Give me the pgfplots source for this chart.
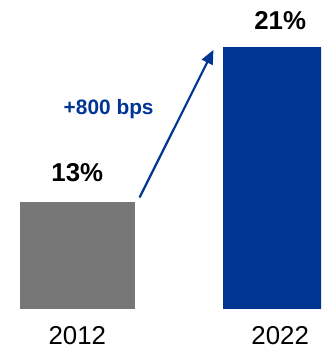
\documentclass[border=0pt]{standalone}
\usepackage{pgfplots}
\pgfplotsset{compat=1.18}
\usepackage{fontspec}
\setmainfont{Liberation Sans}
\usetikzlibrary{arrows.meta}
\definecolor{bgray}{HTML}{777777}
\definecolor{bblue}{HTML}{003594}
\begin{document}
\begin{tikzpicture}
\begin{axis}[
  name=ax,
  scale only axis, width=322bp, height=310bp,
  xmin=-0.3808, xmax=1.2015, ymin=7.5, ymax=23.397,
  axis line style={draw=none}, tick style={draw=none},
  ytick=\empty, xtick={0,1}, xticklabels={2012,2022},
  ybar, bar width=115bp, bar shift=0pt,
  point meta=explicit symbolic,
  nodes near coords,
  nodes near coords style={font=\fontsize{26}{30}\selectfont\bfseries, anchor=south, inner sep=0pt, text=black},
  xticklabel style={font=\fontsize{26}{30}\selectfont, anchor=base, inner sep=0pt, yshift=-31bp},
  /pgf/number format/assume math mode=true,
  clip=true
]
\addplot[fill=bgray, draw=none, every node near coord/.append style={yshift=20bp}] coordinates {(0,13) [13\%]};
\addplot[fill=bblue, draw=none, every node near coord/.append style={yshift=17bp}] coordinates {(1,21) [21\%]};
\draw[bblue, line width=2.2bp, -{Triangle[length=14bp,width=12bp]}] (axis cs:0.307,13.24) -- (axis cs:0.671,20.83);
\node[text=bblue, font=\fontsize{21}{25}\selectfont\bfseries, anchor=base, inner sep=0pt] at (axis cs:0.1548,17.5) {+800 bps};
\end{axis}
\pgfresetboundingbox
\useasboundingbox ([yshift=-40bp]ax.south west) rectangle (ax.north east);
\end{tikzpicture}
\end{document}
